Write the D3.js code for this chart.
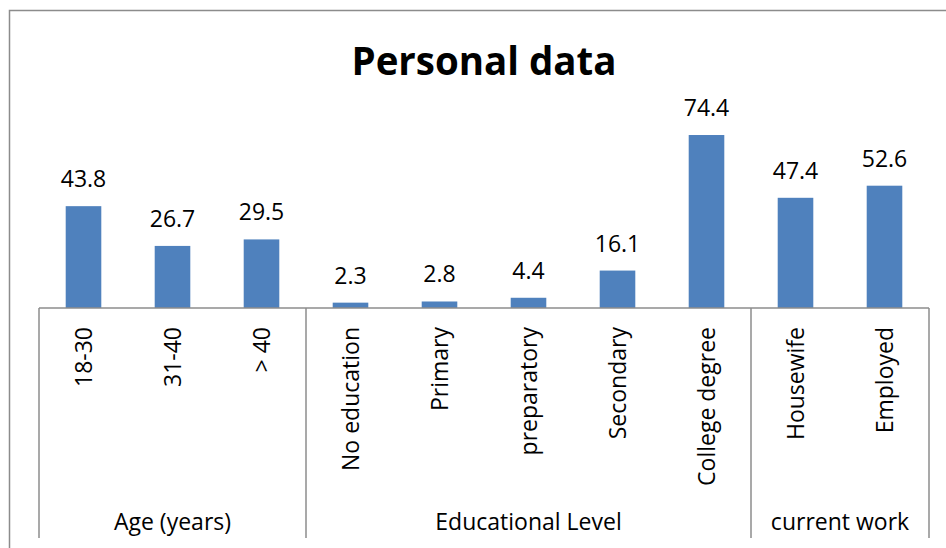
<!DOCTYPE html>
<html>
<head>
<meta charset="utf-8">
<script src="https://cdn.jsdelivr.net/npm/d3@7"></script>
<style>
  body { margin: 0; background: #fff; }
  text { font-family: "Open Sans", "Noto Sans", sans-serif; fill: #000; }
</style>
</head>
<body>
<div id="chart"></div>
<script>
// chart values
var categories = ["18-30", "31-40", "> 40", "No education", "Primary", "preparatory", "Secondary", "College degree", "Housewife", "Employed"];
var values = [43.8, 26.7, 29.5, 2.3, 2.8, 4.4, 16.1, 74.4, 47.4, 52.6];
var groupNames = ["Age (years)", "Educational Level", "current work"];
var groupSizes = [3, 5, 2];

var width = 946, height = 548;
var left = 39, right = 929, base = 308;

var svg = d3.select("#chart").append("svg")
    .attr("width", width).attr("height", height);

// outer frame
svg.append("rect").attr("x", 9.5).attr("y", 10.5)
    .attr("width", 1000).attr("height", 1000)
    .attr("fill", "none").attr("stroke", "#8c8c8c").attr("stroke-width", 1.5);

svg.append("text").attr("x", 484).attr("y", 75)
    .attr("text-anchor", "middle")
    .attr("font-size", "40px").attr("font-weight", "bold")
    .attr("textLength", 265).attr("lengthAdjust", "spacingAndGlyphs")
    .text("Personal data");

var x = d3.scaleBand().domain(categories).range([left, right]).paddingInner(0.6).paddingOuter(0.3);
var y = d3.scaleLinear().domain([0, 80]).range([base, base - 80 * 2.325]);

svg.selectAll("rect.bar").data(values).enter().append("rect")
    .attr("class", "bar")
    .attr("x", function(d, i) { return x(categories[i]); })
    .attr("y", function(d) { return y(d); })
    .attr("width", x.bandwidth())
    .attr("height", function(d) { return base - y(d); })
    .attr("fill", "#4f81bd");

svg.selectAll("text.val").data(values).enter().append("text")
    .attr("class", "val")
    .attr("x", function(d, i) { return x(categories[i]) + x.bandwidth() / 2; })
    .attr("y", function(d) { return y(d) - 19; })
    .attr("text-anchor", "middle")
    .attr("font-size", "23px")
    .text(function(d) { return d.toFixed(1); });

// axis line
svg.append("line").attr("x1", left).attr("x2", right).attr("y1", base).attr("y2", base)
    .attr("stroke", "#8c8c8c").attr("stroke-width", 1.5);

// category labels, rotated
svg.selectAll("text.cat").data(categories).enter().append("text")
    .attr("class", "cat")
    .attr("transform", function(d) { return "translate(" + (x(d) + x.bandwidth() / 2) + ",327) rotate(-90)"; })
    .attr("dy", "0.35em")
    .attr("text-anchor", "end")
    .attr("font-size", "23px")
    .text(function(d) { return d; });

// group separators and labels
var step = x.step();
var start = 0;
groupSizes.forEach(function(n, g) {
    var x0 = left + start * step, x1 = left + (start + n) * step;
    if (g === 0) {
        svg.append("line").attr("x1", x0).attr("x2", x0).attr("y1", base).attr("y2", 538)
            .attr("stroke", "#8c8c8c").attr("stroke-width", 1.5);
    }
    svg.append("line").attr("x1", x1).attr("x2", x1).attr("y1", base).attr("y2", 538)
        .attr("stroke", "#8c8c8c").attr("stroke-width", 1.5);
    svg.append("text").attr("x", (x0 + x1) / 2).attr("y", 530)
        .attr("text-anchor", "middle").attr("font-size", "23px")
        .text(groupNames[g]);
    start += n;
});
</script>
</body>
</html>
